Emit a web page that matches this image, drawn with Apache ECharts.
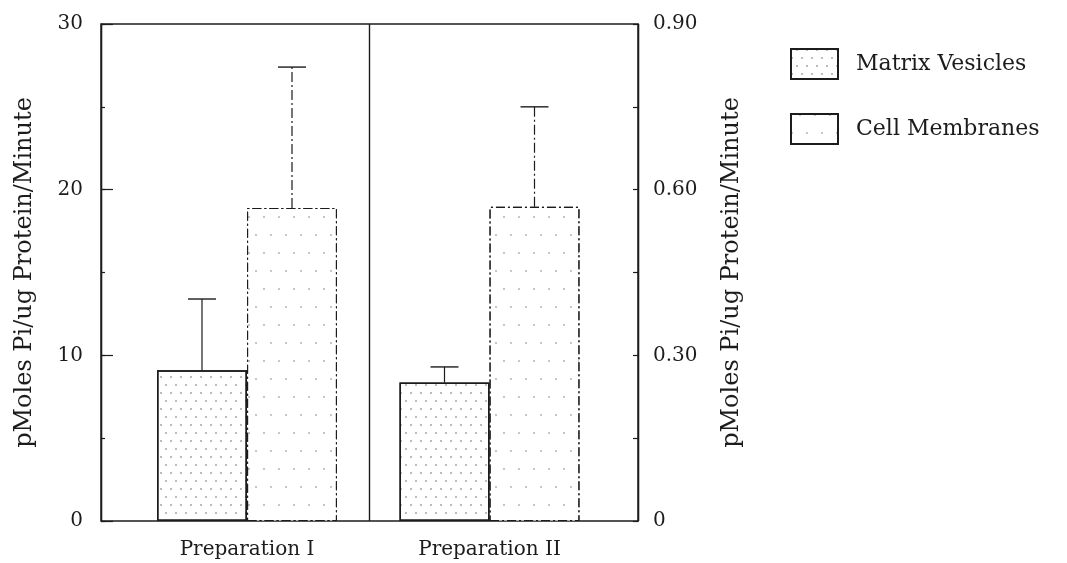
<!DOCTYPE html>
<html>
<head>
<meta charset="utf-8">
<script src="https://cdn.jsdelivr.net/npm/echarts@6/dist/echarts.min.js"></script>
<style>
  html, body { margin: 0; background: #fff; }
  #chart { width: 1067px; height: 563px; }
</style>
</head>
<body>
<div id="chart"></div>
<script>
// values
var prepICats = ['Preparation I'];
var prepIICats = ['Preparation II'];
var seriesNames = ['Matrix Vesicles', 'Cell Membranes'];

// Preparation I (left scale)
var prepIMatrix = [9.1];
var prepIMatrixErr = [13.4];
var prepICell = [18.9];
var prepICellErr = [27.4];

// Preparation II (right scale)
var prepIIMatrix = [0.251];
var prepIIMatrixErr = [0.279];
var prepIICell = [0.569];
var prepIICellErr = [0.75];

// axis ticks
var leftTicks = [0, 10, 20, 30];
var leftMinorStep = 5;
var rightTicks = [0, 0.3, 0.6, 0.9];
var rightTickLabels = ['0', '0.30', '0.60', '0.90'];
var rightMinorStep = 0.15;
var axisName = 'pMoles Pi/ug Protein/Minute';

var INK = '#1c1c1c';
var FONT = 'DejaVu Serif';
var BAR_W = 90;

//点阵填充
var matrixDecal = {
  symbol: 'rect',
  symbolSize: 0.7,
  color: 'rgba(0,0,0,0.5)',
  dashArrayX: [[2, 8], [0, 5, 2, 3]],
  dashArrayY: [2, 6]
};
var cellDecal = {
  symbol: 'rect',
  symbolSize: 0.7,
  color: 'rgba(0,0,0,0.42)',
  dashArrayX: [[2, 13], [0, 8, 2, 5]],
  dashArrayY: [2, 16]
};

function errData(vals, errs) {
  return vals.map(function (v, i) { return [i, v, errs[i]]; });
}

//误差线
function errorBar(side, dashed) {
  return function (params, api) {
    var base = api.coord([api.value(0), api.value(1)]);
    var top = api.coord([api.value(0), api.value(2)]);
    var x = base[0] + side * BAR_W / 2;
    var st = { stroke: INK, lineWidth: 1.2, lineDash: dashed ? [10, 3, 2, 3] : null };
    return {
      type: 'group',
      children: [
        { type: 'line', shape: { x1: x, y1: base[1], x2: x, y2: top[1] }, style: st },
        { type: 'line', shape: { x1: x - 14, y1: top[1], x2: x + 14, y2: top[1] },
          style: { stroke: INK, lineWidth: 1.4 } }
      ]
    };
  };
}

function isTick(v, ticks) {
  for (var i = 0; i < ticks.length; i++) {
    if (Math.abs(v - ticks[i]) < 1e-6) return i;
  }
  return -1;
}

function yAxisCommon() {
  return {
    type: 'value',
    name: axisName,
    nameLocation: 'middle',
    nameRotate: 90,
    nameTextStyle: { fontFamily: FONT, fontSize: 24, color: INK },
    axisLine: { show: true, lineStyle: { color: INK, width: 1.2 } },
    axisTick: { show: true, inside: true, length: 12, lineStyle: { color: INK, width: 1.2 } },
    splitLine: { show: false },
    axisLabel: { fontFamily: FONT, fontSize: 20, color: INK }
  };
}

// 左轴 0-30
var yLeft = yAxisCommon();
Object.assign(yLeft, {
  gridIndex: 0, position: 'left', offset: 24,
  min: leftTicks[0], max: leftTicks[leftTicks.length - 1], interval: leftTicks[1] - leftTicks[0],
  nameGap: 64
});
yLeft.axisLabel.margin = 18;

// 左轴小刻度
var yLeftMinor = {
  type: 'value', gridIndex: 0, position: 'left', offset: 24,
  min: leftTicks[0], max: leftTicks[leftTicks.length - 1], interval: leftMinorStep,
  axisLine: { show: false },
  axisTick: { show: true, inside: true, length: 4, lineStyle: { color: INK, width: 1.2 } },
  axisLabel: { show: false },
  splitLine: { show: false }
};

// 右轴 0-0.90
var yRight = yAxisCommon();
Object.assign(yRight, {
  gridIndex: 1, position: 'right', offset: 29,
  min: rightTicks[0], max: rightTicks[rightTicks.length - 1], interval: rightMinorStep,
  nameGap: 82
});
yRight.axisTick.length = 5;
yRight.axisLabel.margin = 15;
yRight.axisLabel.formatter = function (v) {
  var i = isTick(v, rightTicks);
  return i >= 0 ? rightTickLabels[i] : '';
};

function catAxis(gridIndex, cats) {
  return {
    type: 'category', gridIndex: gridIndex, data: cats,
    axisLine: { show: false }, axisTick: { show: false },
    axisLabel: { fontFamily: FONT, fontSize: 20, color: INK, margin: 19 }
  };
}

var barBase = { type: 'bar', barWidth: BAR_W, barGap: '0%' };

var option = {
  backgroundColor: '#fff',
  animation: false,
  legend: {
    orient: 'vertical', left: 785, top: 43,
    itemWidth: 47, itemHeight: 30, itemGap: 33,
    selectedMode: false,
    icon: 'rect',
    textStyle: { fontFamily: FONT, fontSize: 22, color: INK, padding: [0, 0, 0, 13] },
    data: seriesNames
  },
  grid: [
    { left: 125, top: 24, width: 244, height: 497 },
    { left: 370, top: 24, width: 239, height: 497 },
    { left: 101, top: 24, width: 537, height: 497, show: true,
      borderColor: INK, borderWidth: 1.4, backgroundColor: 'transparent' }
  ],
  xAxis: [
    catAxis(0, prepICats),
    catAxis(1, prepIICats),
    { type: 'category', gridIndex: 2, data: ['', ''],
      axisLine: { show: false }, axisTick: { show: false }, axisLabel: { show: false },
      splitLine: { show: true, interval: 0, lineStyle: { color: INK, width: 1.4 } } }
  ],
  yAxis: [
    yLeft,
    yRight,
    { type: 'value', gridIndex: 2, min: 0, max: 1, show: false, splitLine: { show: false } },
    yLeftMinor
  ],
  series: [
    Object.assign({}, barBase, {
      name: seriesNames[0], xAxisIndex: 0, yAxisIndex: 0, data: prepIMatrix,
      itemStyle: { color: '#fff', borderColor: INK, borderWidth: 1.5, decal: matrixDecal }
    }),
    Object.assign({}, barBase, {
      name: seriesNames[1], xAxisIndex: 0, yAxisIndex: 0, data: prepICell,
      itemStyle: { color: '#fff', borderColor: INK, borderWidth: 1.1, borderType: [9, 3, 2, 3], decal: cellDecal }
    }),
    Object.assign({}, barBase, {
      name: seriesNames[0], xAxisIndex: 1, yAxisIndex: 1, data: prepIIMatrix,
      itemStyle: { color: '#fff', borderColor: INK, borderWidth: 1.5, decal: matrixDecal }
    }),
    Object.assign({}, barBase, {
      name: seriesNames[1], xAxisIndex: 1, yAxisIndex: 1, data: prepIICell,
      itemStyle: { color: '#fff', borderColor: INK, borderWidth: 1.1, borderType: [9, 3, 2, 3], decal: cellDecal }
    }),
    { type: 'custom', xAxisIndex: 0, yAxisIndex: 0, z: 5,
      renderItem: errorBar(-1, false), data: errData(prepIMatrix, prepIMatrixErr) },
    { type: 'custom', xAxisIndex: 0, yAxisIndex: 0, z: 5,
      renderItem: errorBar(1, true), data: errData(prepICell, prepICellErr) },
    { type: 'custom', xAxisIndex: 1, yAxisIndex: 1, z: 5,
      renderItem: errorBar(-1, false), data: errData(prepIIMatrix, prepIIMatrixErr) },
    { type: 'custom', xAxisIndex: 1, yAxisIndex: 1, z: 5,
      renderItem: errorBar(1, true), data: errData(prepIICell, prepIICellErr) }
  ]
};

var chart = echarts.init(document.getElementById('chart'));
chart.setOption(option);
window.addEventListener('resize', function () { chart.resize(); });
</script>
</body>
</html>
